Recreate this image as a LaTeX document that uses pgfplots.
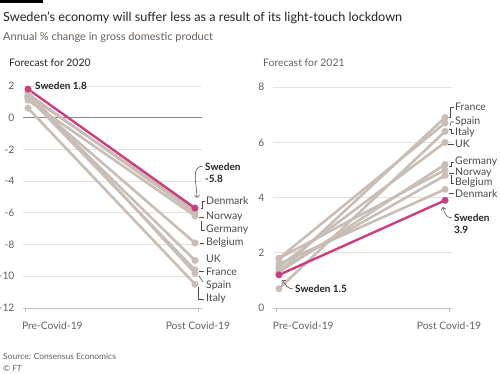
\documentclass[border=0pt]{standalone}
\usepackage{fontspec}
\setmainfont{Lato}
\usepackage{pgfplots}
\pgfplotsset{compat=1.18}
\usetikzlibrary{arrows.meta}
\definecolor{ftgray}{HTML}{C8BEB6}
\definecolor{ftpink}{HTML}{CC3F7F}
\definecolor{ftgrid}{HTML}{E8E2DC}
\definecolor{fttext}{HTML}{262220}
\definecolor{ftsub}{HTML}{66605C}
\definecolor{ftlab}{HTML}{4D4845}
\definecolor{ftzero}{HTML}{8F8985}
\pgfplotsset{
  ftstyle/.style={
    scale only axis, clip=false,
    axis x line=bottom, axis y line=left,
    x axis line style={-, draw=ftgray, line width=0.8pt},
    y axis line style={draw=none},
    ytick style={draw=none},
    xtick style={draw=ftgray, line width=0.8pt},
    tick align=outside, major tick length=4pt,
    ymajorgrids, grid style={ftgrid, line width=0.8pt},
    tick label style={font=\fontsize{10.3}{11}\selectfont, text=ftsub},
    /pgf/number format/assume math mode=true,
    xticklabels={\makebox[0pt][l]{\hspace*{-3pt}Pre-Covid-19}, Post Covid-19},
    xticklabel style={yshift=-6pt},
    yticklabel style={xshift=-1pt},
  },
  grayl/.style={ftgray, line width=2.6pt, line join=round, mark=*, mark size=3.4pt, mark options={fill=ftgray, draw=ftgray, line width=0.1pt}},
  pinkl/.style={ftpink, line width=2.4pt, line join=round, mark=*, mark size=3.4pt, mark options={fill=ftpink, draw=ftpink, line width=0.1pt}},
}
\begin{document}
\begin{tikzpicture}
\path[use as bounding box] (0,0) rectangle (500pt,374pt);
% ---------- left panel: 2020 ----------
\begin{axis}[ftstyle, at={(23pt,66pt)}, anchor=south west,
  width=179pt, height=226.8pt,
  xmin=-0.03, xmax=1.042, ymin=-12, ymax=2.3,
  xtick={-0.018,1.018},
  ytick={-12,-10,-8,-6,-4,-2,0,2}]
\draw[ftzero, line width=0.8pt] (axis cs:-0.03,0) -- (axis cs:1.042,0);
\addplot[grayl] coordinates {(0,1.4) (1,-5.8)};  % Denmark
\addplot[grayl] coordinates {(0,1.5) (1,-6.0)};  % Norway
\addplot[grayl] coordinates {(0,1.1) (1,-6.2)};  % Germany
\addplot[grayl] coordinates {(0,1.2) (1,-7.9)};  % Belgium
\addplot[grayl] coordinates {(0,1.3) (1,-9.0)};  % UK
\addplot[grayl] coordinates {(0,1.3) (1,-9.6)};  % France
\addplot[grayl] coordinates {(0,1.6) (1,-9.8)};  % Spain
\addplot[grayl] coordinates {(0,0.6) (1,-10.5)}; % Italy
\addplot[pinkl] coordinates {(0,1.8) (1,-5.7)};  % Sweden
\end{axis}
% ---------- right panel: 2021 ----------
\begin{axis}[ftstyle, at={(273pt,66pt)}, anchor=south west,
  width=179pt, height=229.1pt,
  xmin=-0.036, xmax=1.042, ymin=0, ymax=8.3,
  xtick={-0.018,1.024},
  ytick={0,2,4,6,8}]
\addplot[grayl] coordinates {(0,1.3) (1,6.9)};  % France
\addplot[grayl] coordinates {(0,1.8) (1,6.7)};  % Spain
\addplot[grayl] coordinates {(0,0.7) (1,6.4)};  % Italy
\addplot[grayl] coordinates {(0,1.5) (1,6.0)};  % UK
\addplot[grayl] coordinates {(0,1.3) (1,5.2)};  % Germany
\addplot[grayl] coordinates {(0,1.8) (1,5.0)};  % Norway
\addplot[grayl] coordinates {(0,1.4) (1,4.8)};  % Belgium
\addplot[grayl] coordinates {(0,1.6) (1,4.3)};  % Denmark
\addplot[pinkl] coordinates {(0,1.2) (1,3.9)};  % Sweden
\end{axis}
% ---------- texts and annotations (pixel coordinates) ----------
\begin{scope}[shift={(0pt,374pt)}, x=1pt, y=-1pt]
\fill[black] (0,0) rectangle (43,2.8);
\node[anchor=base west, inner sep=0, text=fttext, font=\fontsize{12.7}{14}\selectfont] at (3,22) {Sweden’s economy will suffer less as a result of its light-touch lockdown};
\node[anchor=base west, inner sep=0, text=ftsub, font=\fontsize{11}{12}\selectfont] at (3,41) {Annual \% change in gross domestic product};
\node[anchor=base west, inner sep=0, text=fttext, font=\fontsize{10.4}{11}\selectfont] at (9,67) {Forecast for 2020};
\node[anchor=base west, inner sep=0, text=ftsub, font=\fontsize{10.4}{11}\selectfont] at (263,67) {Forecast for 2021};
\node[anchor=base west, inner sep=0, text=ftsub, font=\fontsize{8.5}{9}\selectfont] at (3,360) {Source: Consensus Economics};
\node[anchor=base west, inner sep=0, text=ftsub, font=\fontsize{8.5}{9}\selectfont] at (3,372) {© \textit{FT}};
% left labels
\begin{scope}[every node/.style={anchor=west, inner sep=0, text=ftlab, font=\fontsize{10.5}{11}\selectfont}]
\node[font=\fontsize{10}{11}\selectfont\bfseries, text=fttext] at (35,86) {Sweden 1.8};
\node[font=\fontsize{10}{11}\selectfont\bfseries, text=fttext] at (205,167) {Sweden};
\node[font=\fontsize{10}{11}\selectfont\bfseries, text=fttext] at (205,179) {-5.8};
\node at (206,201) {Denmark};
\node at (206,217) {Norway};
\node at (206,230) {Germany};
\node at (206,243) {Belgium};
\node at (206,259) {UK};
\node at (206,272) {France};
\node at (206,286) {Spain};
\node at (206,299) {Italy};
% right labels
\node at (455,107) {France};
\node at (455,122) {Spain};
\node at (455,133) {Italy};
\node at (455,144) {UK};
\node at (455,162) {Germany};
\node at (455,173) {Norway};
\node at (455,183) {Belgium};
\node at (455,194) {Denmark};
\node[font=\fontsize{10}{11}\selectfont\bfseries, text=fttext] at (454,218) {Sweden};
\node[font=\fontsize{10}{11}\selectfont\bfseries, text=fttext] at (454,230) {3.9};
\node[font=\fontsize{10}{11}\selectfont\bfseries, text=fttext] at (295,289) {Sweden 1.5};
\end{scope}
\begin{scope}[draw=ftlab, line width=0.55pt]
% left leaders
\draw (201,208) -- (202,208) -- (202,201) -- (205,201);
\draw (199,217) -- (204,217);
\draw (201,221) -- (201,230) -- (205,230);
\draw (200,243) -- (204,243);
\draw (199,271) -- (204,271);
\draw (199,276) -- (203,282);
\draw (198,287) -- (198,299) -- (204,299);
\draw[-{Straight Barb[length=2.5pt]}] (203,166) to[out=180,in=90] (197,198);
% right leaders
\draw (449,117) -- (450,117) -- (450,107) -- (454,107);
\draw (450,126) -- (451,122) -- (454,122);
\draw (449,129) -- (451,129) -- (451,133) -- (454,133);
\draw (448,144) -- (454,144);
\draw (449,166) -- (451,166) -- (451,162) -- (454,162);
\draw (449,173) -- (454,173);
\draw (451,175) -- (451,183) -- (454,183);
\draw (449,193) -- (454,193);
\draw[-{Straight Barb[length=2.5pt]}] (452,218) to[out=180,in=-80] (443,207);
\draw[-{Straight Barb[length=2.5pt]}] (293,289) to[out=180,in=-50] (282,280);
\end{scope}
\end{scope}
\end{tikzpicture}
\end{document}
